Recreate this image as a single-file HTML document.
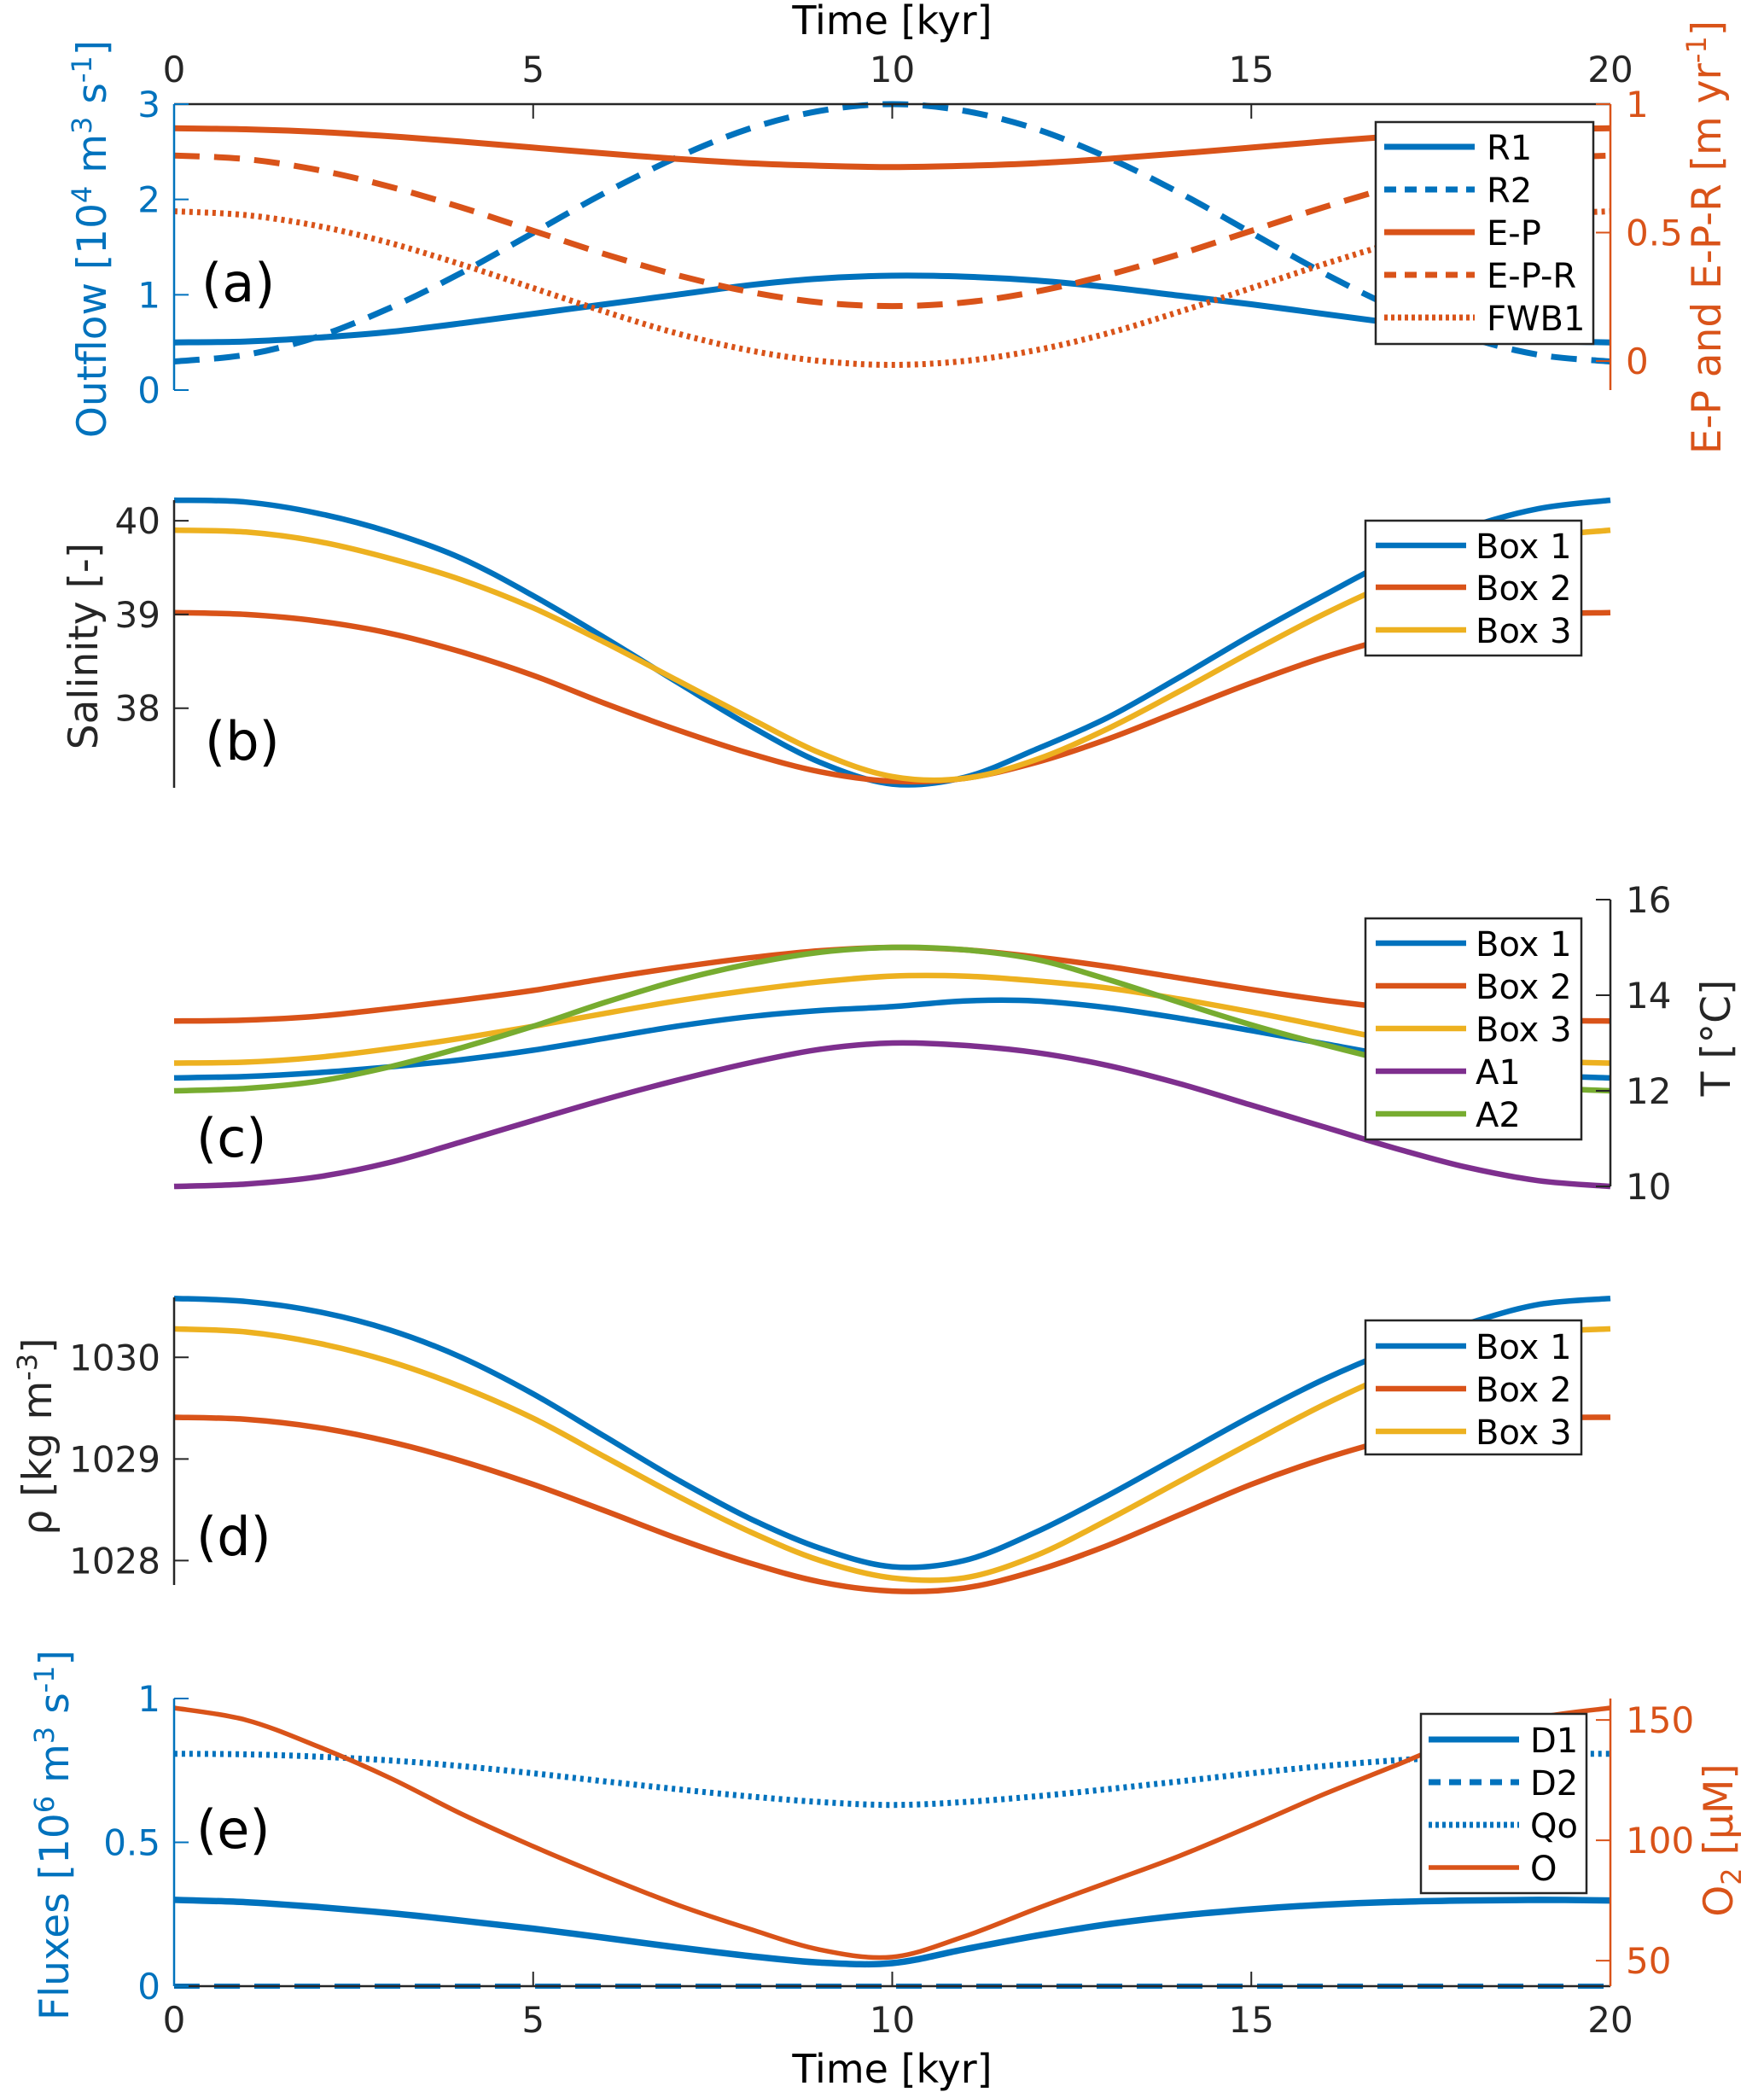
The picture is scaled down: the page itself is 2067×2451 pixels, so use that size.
<!DOCTYPE html>
<html><head><meta charset="utf-8"><title>Box model time series</title>
<style>
html,body{margin:0;padding:0;background:#fff;}
svg{display:block;font-family:"DejaVu Sans","Liberation Sans",sans-serif;}
</style></head>
<body>
<svg id="fig" xmlns="http://www.w3.org/2000/svg" width="2067" height="2451" viewBox="0 0 2067 2451">
<rect x="0" y="0" width="2067" height="2451" fill="#fff"/>
</svg>
<script>
// ---- data (time in kyr) ----
const times = [0,1,2,3,4,5,6,7,8,9,10,11,12,13,14,15,16,17,18,19,20];
const xTicks = [0,5,10,15,20];
// panel (a)
const aR1 = [0.5,0.51,0.55,0.61,0.7,0.8,0.9,1.0,1.1,1.17,1.2,1.19,1.15,1.08,0.99,0.9,0.8,0.7,0.6,0.52,0.5];
const aR2 = [0.3,0.37,0.56,0.86,1.23,1.65,2.07,2.44,2.74,2.93,3.0,2.93,2.74,2.44,2.07,1.65,1.23,0.86,0.56,0.37,0.3];
const aEP = [0.906,0.902,0.892,0.875,0.854,0.831,0.808,0.787,0.77,0.76,0.755,0.76,0.77,0.787,0.808,0.831,0.854,0.875,0.892,0.902,0.906];
const aEPR = [0.8,0.786,0.744,0.679,0.598,0.507,0.416,0.335,0.27,0.228,0.214,0.228,0.27,0.335,0.416,0.507,0.598,0.679,0.744,0.786,0.8];
const aFWB1 = [0.583,0.568,0.526,0.46,0.376,0.284,0.192,0.108,0.042,0.0,-0.015,0.0,0.042,0.108,0.192,0.284,0.376,0.46,0.526,0.568,0.583];
const aLeftTicks = [0,1,2,3];
const aRightTicks = [0,0.5,1];
// panel (b) salinity
const bBox1 = [40.22,40.2,40.08,39.88,39.6,39.2,38.75,38.28,37.82,37.42,37.19,37.26,37.56,37.9,38.33,38.78,39.2,39.6,39.92,40.13,40.22];
const bBox2 = [39.02,39.0,38.93,38.8,38.6,38.35,38.05,37.77,37.52,37.32,37.22,37.25,37.42,37.67,37.97,38.27,38.54,38.76,38.92,39.0,39.02];
const bBox3 = [39.9,39.88,39.78,39.6,39.37,39.07,38.7,38.3,37.9,37.52,37.27,37.25,37.45,37.78,38.18,38.6,39.0,39.35,39.62,39.82,39.9];
const bTicks = [38,39,40];
// panel (c) temperature
const cBox1 = [12.27,12.3,12.38,12.5,12.65,12.85,13.1,13.35,13.55,13.68,13.76,13.88,13.88,13.74,13.52,13.26,12.99,12.72,12.5,12.33,12.27];
const cBox2 = [13.46,13.48,13.56,13.72,13.9,14.1,14.35,14.58,14.78,14.93,15.0,14.95,14.8,14.6,14.36,14.12,13.9,13.72,13.56,13.48,13.46];
const cBox3 = [12.58,12.6,12.7,12.88,13.1,13.35,13.62,13.88,14.1,14.28,14.4,14.4,14.3,14.15,13.92,13.65,13.35,13.05,12.8,12.63,12.58];
const cA1 = [10.0,10.05,10.2,10.5,10.93,11.38,11.82,12.22,12.58,12.87,13.0,12.95,12.8,12.53,12.15,11.7,11.25,10.8,10.4,10.12,10.0];
const cA2 = [12.0,12.05,12.2,12.5,12.9,13.35,13.85,14.3,14.65,14.9,15.0,14.95,14.75,14.33,13.85,13.38,12.97,12.6,12.3,12.08,12.0];
const cTicks = [10,12,14,16];
// panel (d) density
const dBox1 = [1030.58,1030.55,1030.45,1030.27,1030.0,1029.64,1029.22,1028.8,1028.42,1028.12,1027.94,1028.0,1028.28,1028.64,1029.03,1029.42,1029.78,1030.08,1030.33,1030.52,1030.58];
const dBox2 = [1029.41,1029.39,1029.31,1029.17,1028.98,1028.75,1028.49,1028.22,1027.98,1027.79,1027.7,1027.73,1027.9,1028.15,1028.45,1028.75,1029.0,1029.2,1029.33,1029.4,1029.41];
const dBox3 = [1030.28,1030.25,1030.14,1029.96,1029.71,1029.4,1029.02,1028.64,1028.29,1028.0,1027.83,1027.83,1028.05,1028.4,1028.78,1029.16,1029.53,1029.85,1030.1,1030.24,1030.28];
const dTicks = [1028,1029,1030];
// panel (e) fluxes and oxygen
const eD1 = [0.3,0.292,0.275,0.254,0.228,0.2,0.168,0.135,0.105,0.082,0.08,0.128,0.175,0.215,0.245,0.267,0.283,0.293,0.298,0.3,0.298];
const eD2 = [0,0,0,0,0,0,0,0,0,0,0,0,0,0,0,0,0,0,0,0,0];
const eQo = [0.808,0.806,0.798,0.785,0.765,0.74,0.712,0.685,0.66,0.64,0.63,0.64,0.66,0.685,0.712,0.74,0.765,0.785,0.798,0.806,0.808];
const eO = [155,150,139,126,111,97.5,85,73.3,63.3,54.5,51.5,60,71.5,82.5,93.5,106,119,131,143,151,155];
const eLeftTicks = [0,0.5,1];
const eRightTicks = [50,100,150];

// ---- rendering ----
const NS = "http://www.w3.org/2000/svg";
const svg = document.getElementById('fig');
const BLUE="#0072BD", ORANGE="#D95319", YELLOW="#EDB120", PURPLE="#7E2F8E", GREEN="#77AC30";
const X0=204, X1=1887;
function sx(t){ return X0 + (t-0)/(20-0)*(X1-X0); }
function mkY(top,bottom,lo,hi){ return v => bottom - (v-lo)/(hi-lo)*(bottom-top); }
function el(tag, attrs, parent){
  const e=document.createElementNS(NS,tag);
  for(const k in attrs) e.setAttribute(k,attrs[k]);
  (parent||svg).appendChild(e); return e;
}
function smoothPath(xs, ys){
  let d = "M"+xs[0].toFixed(1)+","+ys[0].toFixed(1);
  for(let i=0;i<xs.length-1;i++){
    const x0=xs[Math.max(i-1,0)], y0=ys[Math.max(i-1,0)];
    const x1=xs[i], y1=ys[i], x2=xs[i+1], y2=ys[i+1];
    const x3=xs[Math.min(i+2,xs.length-1)], y3=ys[Math.min(i+2,xs.length-1)];
    const c1x=x1+(x2-x0)/6, c1y=y1+(y2-y0)/6, c2x=x2-(x3-x1)/6, c2y=y2-(y3-y1)/6;
    d+=" C"+c1x.toFixed(1)+","+c1y.toFixed(1)+" "+c2x.toFixed(1)+","+c2y.toFixed(1)+" "+x2.toFixed(1)+","+y2.toFixed(1);
  }
  return d;
}
const DASH="30,17", DOT="4,5";
function series(name, vals, yf, color, width, dash){
  const p = el('path',{d:smoothPath(times.map(sx), vals.map(yf)), fill:'none', stroke:color, 'stroke-width':width, 'stroke-dasharray':dash||'none', 'stroke-linejoin':'round'});
  
  
  return p;
}
function text(name, str, x, y, opts){
  const t = el('text',Object.assign({x:x,y:y,'font-size':42,fill:'#262626'},opts||{}));
  t.textContent = str;
  
  
  return t;
}
function line(name, x1,y1,x2,y2,color,w){
  const l = el('line',{x1:x1,y1:y1,x2:x2,y2:y2,stroke:color,'stroke-width':w||2});
  
  
  return l;
}
function leftAxis(prefix, top,bottom, yf, ticks, color){
  line(prefix+'-left-axis', X0,top,X0,bottom,color,2.5);
  ticks.forEach(v=>{
    const y=yf(v);
    line(prefix+'-left-tick', X0,y,X0+17,y,color,2);
    text(prefix+'-left-tick-label', String(v), 188, y+15, {'text-anchor':'end', fill:color});
  });
}
function rightAxis(prefix, top,bottom, yf, ticks, color){
  line(prefix+'-right-axis', X1,top,X1,bottom,color,2.5);
  ticks.forEach(v=>{
    const y=yf(v);
    line(prefix+'-right-tick', X1-17,y,X1,y,color,2);
    text(prefix+'-right-tick-label', String(v), 1905, y+15, {'text-anchor':'start', fill:color});
  });
}
function ylabel(name, x, y, parts, color){
  const t = el('text',{x:0,y:0,'font-size':47,fill:color,'text-anchor':'middle',transform:'translate('+x+','+y+') rotate(-90)'});
  parts.forEach(p=>{
    const s=el('tspan',{},t);
    if(p[1]==='sup'){ s.setAttribute('font-size','32'); s.setAttribute('dy','-17'); }
    else if(p[1]==='sub'){ s.setAttribute('font-size','32'); s.setAttribute('dy','10'); }
    else if(p[1]==='back'){ s.setAttribute('dy','17'); }
    else if(p[1]==='up'){ s.setAttribute('dy','-10'); }
    s.textContent=p[0];
  });
  
  
}
function legend(prefix, x,y,w,h, entries, ys, lx1, lx2, tx){
  const r = el('rect',{x:x,y:y,width:w,height:h,fill:'#fff',stroke:'#262626','stroke-width':2.5});
  
  
  entries.forEach((e,i)=>{
    const ln = line(prefix+'-legend-swatch', lx1, ys[i], lx2, ys[i], e[1], e[2]);
    if(e[3]) ln.setAttribute('stroke-dasharray', e[3]);
    text(prefix+'-legend-label', e[0], tx, ys[i]+15, {'font-size':40,fill:'#000'});
  });
}
function panelLabel(name, str, x, y){
  text(name, str, x, y, {'font-size':62, fill:'#000'});
}

// ===== Panel (a) =====
const aT=122, aB=457;
const ayL = mkY(aT,aB,0,3), ayR = mkY(aT,aB,-0.113,1);
series('r1-line', aR1, ayL, BLUE, 7);
series('r2-line', aR2, ayL, BLUE, 7, DASH);
series('ep-line', aEP, ayR, ORANGE, 7);
series('epr-line', aEPR, ayR, ORANGE, 7, DASH);
series('fwb1-line', aFWB1, ayR, ORANGE, 7, DOT);
line('a-top-axis', X0,aT,X1,aT,'#262626',2.5);
xTicks.forEach(t=>{
  if(t>0 && t<20) line('a-top-tick', sx(t),aT,sx(t),aT+17,'#262626',2);
  text('top-x-tick-label', String(t), sx(t), 96, {'text-anchor':'middle'});
});
text('top-x-axis-title', 'Time [kyr]', (X0+X1)/2, 40, {'text-anchor':'middle','font-size':46,fill:'#000'});
leftAxis('a', aT, aB, ayL, aLeftTicks, BLUE);
rightAxis('a', aT, aB, ayR, aRightTicks, ORANGE);
ylabel('a-left-y-axis-title', 124, 280, [['Outflow [10'],['4','sup'],[' m','back'],['3','sup'],[' s','back'],['-1','sup'],[']','back']], BLUE);
ylabel('a-right-y-axis-title', 2016, 278, [['E-P and E-P-R [m yr'],['-1','sup'],[']','back']], ORANGE);
legend('a', 1612,143,255,260, [['R1',BLUE,7],['R2',BLUE,7,'14,10'],['E-P',ORANGE,7],['E-P-R',ORANGE,7,'14,10'],['FWB1',ORANGE,7,'4,4']], [172,222,272,322,372], 1622,1728,1742);
panelLabel('panel-label-a', '(a)', 236, 353);

// ===== Panel (b) =====
const bT=586, bB=923;
const byf = mkY(bT,bB,37.15,40.22);
series('b-box1-line', bBox1, byf, BLUE, 6.5);
series('b-box2-line', bBox2, byf, ORANGE, 6.5);
series('b-box3-line', bBox3, byf, YELLOW, 6.5);
leftAxis('b', bT, bB, byf, bTicks, '#262626');
ylabel('b-y-axis-title', 114, 757, [['Salinity [-]']], '#262626');
legend('b', 1600,610,253,158, [['Box 1',BLUE,6.5],['Box 2',ORANGE,6.5],['Box 3',YELLOW,6.5]], [639,688,738], 1612,1718,1729);
panelLabel('panel-label-b', '(b)', 240, 890);

// ===== Panel (c) =====
const cT=1054, cB=1390;
const cyf = mkY(cT,cB,10,16);
series('c-box1-line', cBox1, cyf, BLUE, 6.5);
series('c-box2-line', cBox2, cyf, ORANGE, 6.5);
series('c-box3-line', cBox3, cyf, YELLOW, 6.5);
series('c-a1-line', cA1, cyf, PURPLE, 6.5);
series('c-a2-line', cA2, cyf, GREEN, 6.5);
rightAxis('c', cT, cB, cyf, cTicks, '#262626');
ylabel('c-y-axis-title', 2027, 1216, [['T [°C]']], '#262626');
legend('c', 1600,1076,253,259, [['Box 1',BLUE,6.5],['Box 2',ORANGE,6.5],['Box 3',YELLOW,6.5],['A1',PURPLE,6.5],['A2',GREEN,6.5]], [1105,1155,1205,1255,1305], 1612,1718,1729);
panelLabel('panel-label-c', '(c)', 230, 1355);

// ===== Panel (d) =====
const dT=1520, dB=1857;
const dyf = mkY(dT,dB,1027.76,1030.59);
series('d-box1-line', dBox1, dyf, BLUE, 6.5);
series('d-box2-line', dBox2, dyf, ORANGE, 6.5);
series('d-box3-line', dBox3, dyf, YELLOW, 6.5);
leftAxis('d', dT, dB, dyf, dTicks, '#262626');
ylabel('d-y-axis-title', 60, 1683, [['ρ [kg m'],['-3','sup'],[']','back']], '#262626');
legend('d', 1600,1547,253,157, [['Box 1',BLUE,6.5],['Box 2',ORANGE,6.5],['Box 3',YELLOW,6.5]], [1577,1627,1677], 1612,1718,1729);
panelLabel('panel-label-d', '(d)', 230, 1822);

// ===== Panel (e) =====
const eT=1990, eB=2327;
const eyL = mkY(eT,eB,0,1), eyR = mkY(eT,eB,39.4,158.9);
series('d2-line', eD2, eyL, BLUE, 6, DASH);
series('qo-line', eQo, eyL, BLUE, 7, DOT);
series('d1-line', eD1, eyL, BLUE, 7.5);
series('o-line', eO, eyR, ORANGE, 5.5);
line('e-bottom-axis', X0,eB,X1,eB,'#262626',2.5);
xTicks.forEach(t=>{
  if(t>0 && t<20) line('e-bottom-tick', sx(t),eB,sx(t),eB-17,'#262626',2);
  text('bottom-x-tick-label', String(t), sx(t), 2381, {'text-anchor':'middle'});
});
text('bottom-x-axis-title', 'Time [kyr]', (X0+X1)/2, 2440, {'text-anchor':'middle','font-size':46,fill:'#000'});
leftAxis('e', eT, eB, eyL, eLeftTicks, BLUE);
rightAxis('e', eT, eB, eyR, eRightTicks, ORANGE);
ylabel('e-left-y-axis-title', 80, 2150, [['Fluxes [10'],['6','sup'],[' m','back'],['3','sup'],[' s','back'],['-1','sup'],[']','back']], BLUE);
ylabel('e-right-y-axis-title', 2030, 2156, [['O'],['2','sub'],[' [μM]','up']], ORANGE);
legend('e', 1665,2008,194,210, [['D1',BLUE,7],['D2',BLUE,7,'14,10'],['Qo',BLUE,7,'4,4'],['O',ORANGE,5.5]], [2038,2088,2138,2188], 1674,1780,1793);
panelLabel('panel-label-e', '(e)', 230, 2165);
</script>
</body></html>
